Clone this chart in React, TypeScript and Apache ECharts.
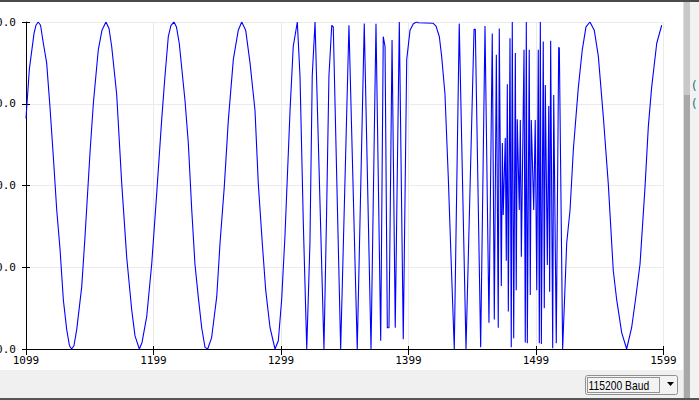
import React, { useEffect, useRef } from "react";
import * as echarts from "echarts";

// Sample index (x) and value (y)
const sampleX = [
  1099, 1101.6, 1105.3, 1106.8, 1108.6, 1110.4, 1112.6, 1115.2, 1117.8, 1120.4,
  1123.1, 1125.7, 1128.3, 1130.9, 1133.1, 1134.8, 1136.6, 1138.8, 1142.7, 1145.3,
  1149.2, 1151.8, 1155.7, 1158.6, 1161.7, 1164.1, 1166.2, 1170.1, 1174.1, 1178.0,
  1181.9, 1184.5, 1187.9, 1190.0, 1193.7, 1197.6, 1201.5, 1205.4, 1208.0, 1210.6,
  1212.7, 1215.1, 1217.0, 1219.2, 1223.7, 1226.3, 1229.0, 1231.5, 1234.1, 1236.8,
  1239.4, 1241.5, 1244.6, 1248.6, 1251.2, 1254.5, 1257.7, 1261.6, 1265.5, 1268.2,
  1271.3, 1274.7, 1278.6, 1281.2, 1284.3, 1287.0, 1290.4, 1294.3, 1296.9, 1299.5,
  1302.1, 1306.1, 1308.6, 1311.8, 1313.9, 1316.5, 1319.2, 1321.7, 1323.5, 1325.7,
  1328.3, 1332.7, 1334.8, 1336.6, 1338.8, 1340.0, 1345.8, 1352.3, 1358.8, 1364.3,
  1369.6, 1373.5, 1377.2, 1379.2, 1380.6, 1382.4, 1383.7, 1386.1, 1388.6, 1391.8,
  1394.9, 1397.6, 1400.2, 1402.8, 1405.4, 1406.7, 1418.4, 1420.6, 1423.2, 1425.0,
  1427.6, 1430.2, 1432.9, 1434.9, 1438.8, 1444.1, 1450.4, 1451.4, 1455.6, 1459.0,
  1462.1, 1464.7, 1466.3, 1467.9, 1469.4, 1470.2, 1471.8, 1472.6, 1473.3, 1474.9,
  1475.7, 1476.5, 1477.3, 1478.6, 1479.6, 1480.4, 1481.5, 1482.8, 1483.5, 1484.3,
  1485.9, 1486.7, 1487.5, 1489.6, 1490.6, 1491.4, 1492.2, 1493.7, 1494.5, 1495.3,
  1497.2, 1498.4, 1499.6, 1500.8, 1501.6, 1502.4, 1503.2, 1504.7, 1505.5, 1506.3,
  1507.9, 1509.0, 1509.7, 1510.5, 1512.1, 1512.9, 1514.9, 1516.8, 1517.3, 1519.9,
  1523.1, 1525.7, 1528.3, 1532.2, 1535.3, 1538.2, 1541.3, 1544.7, 1547.9, 1551.8,
  1555.7, 1559.6, 1562.3, 1566.2, 1570.1, 1574.0, 1577.0, 1580.6, 1584.5, 1587.1,
  1589.7, 1593.7, 1597.6,
];

const sampleY = [
  41, 71, 93, 98, 100, 98, 87, 75, 48, 18,
  -15, -39, -70, -88, -98, -100, -98, -88, -62, -31,
  20, 50, 83, 95, 100, 96, 85, 56, 1, -44,
  -76, -92, -100, -96, -80, -48, -5, 40, 67, 91,
  98, 100, 97, 87, 52, 26, -15, -48, -68, -87,
  -99, -100, -93, -68, -35, -1, 40, 77, 95, 100,
  95, 75, 46, 1, -35, -64, -87, -100, -95, -70,
  -31, 46, 85, 100, 67, -23, -100, -35, 67, 100,
  26, -100, -15, 67, 98, 97, -100, 98, -100, 99,
  -100, 99, -95, 91, 85, -87, -87, 89, -87, 100,
  -94, 77, 95, 99, 100, 99.5, 99.2, 97.5, 91, 79,
  56, 5, -56, -100, 99, -100, 95.5, 95.5, -99, 97.5,
  -84, 93, -82, 80, -87, 96, -61.5, 26, -18, 29,
  -46, 62, -77, 90, -99, 100, -93.5, 81, -64, 40.5,
  -15, 40, -43.5, 83, -96, 100, -96.5, 83, -67, 40,
  -15, 40, -64, 83, -96.5, 100, -97, 88, -75, 61.5,
  -48.6, 48.6, -65, 88.6, -99.6, 55.4, -96.5, 84.5, 84, -100,
  -35, -15, 22, 60, 83, 97, 100, 95, 79, 42,
  1, -52, -70, -90, -100, -87, -70, -48, -1, 36,
  60, 87, 98,
];

const xMin = 1099;
const xMax = 1599;
const xStep = 100;
const yMin = -100;
const yMax = 100;
const yStep = 50;
const baudLabel = "115200 Baud";
const sideMarks = ["(", "("];

export default function App() {
  const ref = useRef<HTMLDivElement>(null);

  useEffect(() => {
    document.body.style.margin = "0";
    if (!ref.current) return;
    const chart = echarts.init(ref.current, null, { renderer: "svg" });
    const data = sampleX.map((x, i) => [x, sampleY[i]]);
    const mono = "'DejaVu Sans Mono', monospace";

    const option: any = {
      animation: false,
      backgroundColor: "#ffffff",
      grid: {
        left: 26,
        right: 35.5,
        top: 22,
        bottom: 51,
        containLabel: false,
        outerBoundsMode: "none",
      },
      xAxis: [
        {
          type: "value",
          min: xMin,
          max: xMax,
          interval: xStep,
          position: "bottom",
          axisLine: { show: true, onZero: false, lineStyle: { color: "#000", width: 1 } },
          axisTick: { show: true, length: 6, lineStyle: { color: "#000" } },
          axisLabel: {
            show: true,
            margin: 6,
            color: "#000",
            fontFamily: mono,
            fontSize: 11,
            formatter: (v: number) => String(v),
          },
          splitLine: { show: true, lineStyle: { color: "#ebebeb", width: 1 } },
        },
        {
          type: "value",
          min: xMin,
          max: xMax,
          interval: xStep,
          position: "bottom",
          axisLine: { show: false, onZero: false },
          axisTick: { show: true, inside: true, length: 3, lineStyle: { color: "#000" } },
          axisLabel: { show: false },
          splitLine: { show: false },
        },
      ],
      yAxis: [
        {
          type: "value",
          min: yMin,
          max: yMax,
          interval: yStep,
          position: "left",
          axisLine: { show: true, onZero: false, lineStyle: { color: "#000", width: 1 } },
          axisTick: { show: true, length: 4, lineStyle: { color: "#000" } },
          axisLabel: {
            show: true,
            margin: 10,
            color: "#000",
            fontFamily: mono,
            fontSize: 11,
            formatter: (v: number) => v.toFixed(1),
          },
          splitLine: { show: true, lineStyle: { color: "#ebebeb", width: 1 } },
        },
        {
          type: "value",
          min: yMin,
          max: yMax,
          interval: yStep,
          position: "left",
          axisLine: { show: false, onZero: false },
          axisTick: { show: true, inside: true, length: 4, lineStyle: { color: "#000" } },
          axisLabel: { show: false },
          splitLine: { show: false },
        },
      ],
      series: [
        {
          type: "line",
          xAxisIndex: 0,
          yAxisIndex: 0,
          data,
          showSymbol: false,
          symbol: "none",
          smooth: false,
          lineStyle: { color: "#0000ff", width: 1.1 },
          clip: true,
        },
      ],
      graphic: [
        { type: "rect", shape: { x: 0, y: 0, width: 699, height: 2 }, style: { fill: "#4a4a4a" }, z: 100 },
        { type: "rect", shape: { x: 0, y: 370, width: 683, height: 28 }, style: { fill: "#f0f0f0" }, z: 100 },
        { type: "rect", shape: { x: 0, y: 398, width: 699, height: 2 }, style: { fill: "#555555" }, z: 100 },
        { type: "rect", shape: { x: 683, y: 2, width: 1, height: 396 }, style: { fill: "#dedede" }, z: 100 },
        { type: "rect", shape: { x: 684, y: 2, width: 6, height: 93 }, style: { fill: "#c8c8c8" }, z: 100 },
        { type: "rect", shape: { x: 684, y: 95, width: 6, height: 303 }, style: { fill: "#a8a8a8" }, z: 100 },
        { type: "rect", shape: { x: 690, y: 2, width: 9, height: 396 }, style: { fill: "#f2f2f2" }, z: 100 },
        ...sideMarks.map((m, i) => ({
          type: "text",
          x: 692,
          y: 86 + i * 18,
          z: 101,
          style: {
            text: m,
            fill: "#2f7373",
            font: "12px 'DejaVu Sans'",
            textVerticalAlign: "middle",
          },
        })),
        {
          type: "rect",
          shape: { x: 585.5, y: 375.5, width: 92, height: 19, r: 2 },
          style: { fill: "#f3f3f3", stroke: "#8f9090", lineWidth: 1 },
          z: 101,
        },
        {
          type: "rect",
          shape: { x: 587.5, y: 377.5, width: 72, height: 15 },
          style: { fill: "none", stroke: "#333", lineWidth: 1, lineDash: [1, 1] },
          z: 102,
        },
        {
          type: "text",
          x: 588.5,
          y: 385.5,
          scaleX: 0.86,
          z: 103,
          style: {
            text: baudLabel,
            fill: "#000",
            font: "12px 'Liberation Sans'",
            textVerticalAlign: "middle",
          },
        },
        {
          type: "polygon",
          shape: { points: [[667, 382], [674, 382], [670.5, 386]] },
          style: { fill: "#000" },
          z: 103,
        },
      ],
    };

    chart.setOption(option);
    return () => chart.dispose();
  }, []);

  return <div ref={ref} style={{ width: 699, height: 400 }} />;
}
